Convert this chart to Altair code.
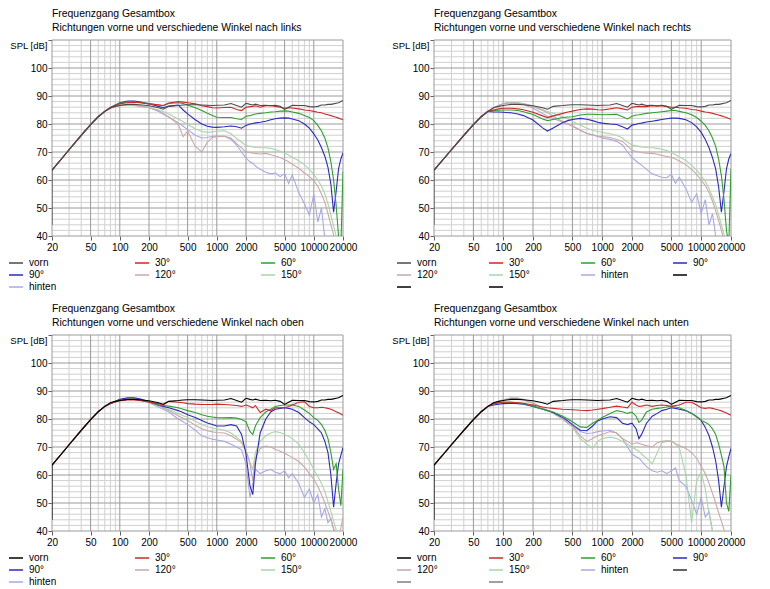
import altair as alt
import pandas as pd

FONT = "Liberation Sans"

FREQ = [20, 20, 25, 30, 40, 50, 60, 70, 80, 90, 100, 120, 140, 160, 200, 250, 280, 320, 400, 450,
        500, 600, 700, 800, 900, 1000, 1200, 1400, 1600, 1800, 2000, 2200,
        2350, 2500, 2800, 3200, 3600, 4000, 4500, 5000, 5500, 6000, 7000, 8000,
        9000, 10000, 11000, 12000, 13000, 14000, 15000, 16000, 17000, 18000, 19000, 20000]

# 20..70 Hz, identical for every curve
RISE = [63.5, 67.5, 70.8, 75.9, 79.8, 82.6, 84.5]

# first value = start at 20 Hz, then 80 Hz .. 20 kHz
VORN = [44.0,
        85.8, 86.3, 86.6, 87.0, 87.0, 86.9, 86.5, 85.8, 85.3, 86.3, 86.6, 86.8,
        86.9, 86.9, 86.8, 86.7, 86.6, 86.7, 86.8, 87.3, 86.6, 86.0, 87.4, 87.0,
        86.8, 87.1, 86.6, 86.7, 86.5, 86.7, 86.3, 85.2, 86.0, 86.7, 86.6, 86.6,
        86.2, 86.1, 86.3, 86.8, 86.8, 87.0, 87.0, 87.2, 87.4, 87.6, 88.0, 88.4]

# nach links
L30 = [63.5, 85.8, 86.6, 87.2, 87.7, 87.8, 87.6, 87.2, 86.9, 86.6, 87.5, 88.0, 87.8,
       87.6, 87.2, 86.5, 86.2, 85.8, 85.7, 85.9, 86.0, 85.2, 84.8, 86.0, 86.2,
       86.3, 86.5, 86.0, 86.5, 86.6, 86.3, 86.0, 85.6, 85.8, 85.7, 85.4, 85.0,
       84.8, 84.5, 84.2, 84.0, 83.6, 83.3, 83.0, 82.7, 82.4, 82.1, 81.8, 81.5]
L60 = [63.5, 85.9, 86.8, 87.4, 87.9, 87.9, 87.7, 87.3, 86.8, 86.5, 87.3, 87.6, 87.3,
       86.8, 85.8, 84.8, 83.8, 83.0, 82.4, 82.3, 82.3, 81.9, 81.6, 82.8, 83.0,
       83.3, 83.6, 83.8, 84.0, 84.3, 84.4, 84.6, 84.7, 84.6, 84.3, 83.8, 83.0,
       82.3, 81.2, 79.5, 77.5, 75.0, 71.5, 66.5, 60.0, 51.0, 40.0, 36.0, 63.0]
L90 = [63.5, 85.9, 86.8, 87.6, 88.2, 88.2, 87.9, 87.2, 86.3, 85.8, 86.4, 86.8, 85.0,
       83.6, 81.5, 80.0, 79.2, 78.9, 78.8, 79.0, 79.3, 79.0, 78.5, 79.5, 80.0,
       80.2, 80.4, 80.6, 81.0, 81.5, 81.9, 82.1, 82.2, 82.1, 81.8, 81.2, 80.0,
       78.5, 76.5, 74.3, 71.5, 68.5, 64.5, 58.5, 48.5, 56.0, 64.0, 67.5, 69.7]
L120 = [63.5, 85.6, 86.2, 86.6, 86.8, 86.6, 86.3, 85.8, 84.8, 83.8, 82.5, 80.0, 75.5,
        77.5, 72.0, 70.0, 73.5, 75.2, 75.5, 75.6, 75.0, 73.0, 71.5, 70.0, 69.8,
        69.6, 69.5, 69.3, 69.5, 69.0, 68.6, 68.0, 67.2, 66.5, 65.6, 64.2, 62.5,
        61.2, 59.8, 57.8, 55.0, 52.0, 48.0, 44.0, 40.5, 37.0, 36.0, 36.0, 36.0]
L150 = [63.5, 85.6, 86.3, 86.8, 87.0, 86.8, 86.5, 85.9, 85.0, 84.5, 83.6, 81.8, 80.8,
        79.8, 78.3, 77.3, 77.0, 77.2, 77.4, 77.6, 76.5, 74.8, 73.5, 72.3, 72.0,
        71.8, 71.6, 71.5, 71.5, 71.3, 70.9, 70.3, 69.6, 68.9, 68.1, 66.9, 65.5,
        63.8, 62.0, 60.0, 57.8, 55.0, 51.5, 47.5, 43.5, 40.0, 36.0, 36.0, 36.0]
LH = [63.5, 85.6, 86.2, 86.7, 87.0, 86.8, 86.5, 85.9, 84.5, 83.5, 82.5, 80.5, 79.2,
      78.0, 76.0, 75.0, 75.2, 75.6, 75.7, 75.6, 74.5, 72.5, 70.0, 67.8, 66.5,
      66.0, 65.0, 63.8, 62.8, 62.2, 62.5, 61.2, 62.3, 58.8, 61.8, 55.5, 51.5,
      47.5, 55.0, 45.0, 50.0, 39.0, 36.0, 36.0, 36.0, 36.0, 36.0, 36.0, 36.0]

# nach rechts
R30 = [63.5, 85.0, 85.4, 85.6, 85.6, 85.4, 85.1, 84.2, 82.9, 82.3, 82.9, 83.8, 84.3,
       84.6, 85.2, 85.4, 85.3, 85.1, 85.0, 85.4, 85.8, 85.4, 85.0, 86.0, 86.2,
       86.2, 86.3, 86.2, 86.5, 86.4, 86.5, 86.2, 86.0, 86.0, 85.8, 85.6, 85.2,
       85.0, 84.6, 84.3, 84.1, 83.8, 83.5, 83.2, 82.9, 82.6, 82.3, 82.0, 81.7]
R60 = [63.5, 84.8, 84.9, 85.0, 85.0, 84.8, 84.4, 83.4, 81.8, 81.2, 81.6, 82.3, 82.5,
       82.6, 83.2, 83.5, 83.5, 83.4, 83.3, 83.4, 83.5, 82.6, 81.8, 82.8, 83.2,
       83.3, 83.5, 83.8, 84.0, 84.2, 84.4, 84.6, 84.8, 84.8, 84.5, 84.0, 83.3,
       82.3, 81.0, 79.5, 77.5, 75.0, 72.0, 67.5, 61.5, 53.0, 42.0, 37.0, 64.0]
R90 = [63.5, 84.3, 84.3, 84.2, 84.0, 83.6, 83.0, 81.4, 78.6, 77.5, 78.6, 80.5, 81.2,
       81.6, 82.0, 81.7, 81.2, 80.6, 80.3, 80.0, 79.8, 79.0, 78.2, 79.6, 79.9,
       80.2, 80.3, 80.7, 81.0, 81.3, 81.6, 81.9, 82.1, 82.1, 82.0, 81.5, 80.5,
       79.0, 77.0, 74.5, 71.5, 68.0, 64.0, 57.5, 48.5, 56.0, 64.0, 67.5, 69.5]
R120 = [63.5, 85.8, 86.6, 87.2, 87.6, 87.5, 87.2, 86.2, 84.8, 84.0, 82.8, 80.8, 80.0,
        79.2, 77.8, 76.6, 76.0, 75.7, 75.5, 75.2, 74.5, 73.8, 72.2, 70.6, 70.2,
        70.0, 69.8, 69.6, 69.5, 69.2, 68.8, 68.4, 68.0, 67.5, 66.8, 65.5, 63.8,
        62.0, 60.0, 58.0, 55.5, 52.5, 49.0, 45.5, 42.0, 38.5, 36.0, 36.0, 36.0]
R150 = [63.5, 85.8, 86.6, 87.3, 87.7, 87.6, 87.3, 86.5, 85.2, 84.5, 83.8, 82.5, 81.8,
        81.0, 79.6, 78.5, 77.8, 77.3, 77.0, 76.5, 76.0, 75.0, 73.5, 72.5, 72.2,
        72.0, 71.8, 71.6, 71.5, 71.3, 71.0, 70.5, 69.8, 69.0, 68.3, 67.0, 65.2,
        63.5, 61.5, 59.5, 57.0, 54.0, 51.0, 47.5, 44.0, 40.5, 37.0, 36.0, 36.0]
RH = [63.5, 85.8, 86.6, 87.3, 87.7, 87.5, 87.0, 85.6, 83.8, 82.8, 82.0, 80.6, 80.0,
      79.4, 77.8, 76.6, 76.2, 75.5, 75.0, 74.5, 73.8, 72.5, 70.0, 68.0, 66.8,
      66.0, 65.3, 63.8, 62.2, 61.5, 61.0, 60.8, 62.0, 58.8, 61.0, 57.0, 52.0,
      55.0, 48.0, 53.0, 44.0, 48.0, 40.0, 37.0, 36.0, 36.0, 36.0, 36.0, 36.0]

# nach oben
O30 = [63.5, 85.5, 86.1, 86.5, 86.8, 86.8, 86.6, 86.1, 85.5, 85.0, 86.3, 86.0, 85.8,
       85.5, 85.3, 85.2, 85.2, 85.2, 85.3, 85.2, 85.0, 84.8, 84.5, 85.0, 84.5,
       84.0, 84.8, 82.3, 83.5, 83.0, 84.0, 84.0, 84.0, 84.5, 85.0, 86.0, 86.2,
       84.5, 84.0, 84.0, 84.2, 84.0, 83.8, 83.5, 83.0, 82.6, 82.2, 81.8, 81.3]
O60 = [63.5, 85.5, 86.2, 86.7, 87.0, 87.0, 86.8, 86.1, 85.0, 84.8, 84.6, 84.0, 83.5,
       83.0, 82.3, 81.5, 81.0, 80.7, 80.5, 80.4, 80.5, 80.3, 79.8, 79.0, 75.5,
       74.5, 77.5, 80.5, 82.5, 83.5, 84.5, 84.8, 85.0, 85.0, 85.0, 84.5, 83.2,
       82.0, 80.5, 79.5, 78.0, 76.0, 73.0, 68.0, 62.0, 64.0, 55.0, 49.0, 62.0]
O90 = [63.5, 85.5, 86.3, 87.0, 87.6, 87.6, 87.2, 86.2, 85.0, 84.5, 84.0, 83.0, 82.3,
       81.5, 80.5, 79.5, 78.6, 78.0, 77.5, 77.5, 78.0, 77.5, 74.5, 67.5, 56.0,
       53.0, 64.0, 75.0, 80.0, 82.5, 83.5, 83.8, 84.0, 83.8, 83.5, 82.3, 80.5,
       79.0, 78.0, 76.5, 75.0, 72.0, 68.0, 60.0, 48.5, 57.0, 64.0, 67.0, 69.8]
O120 = [63.5, 85.5, 86.3, 86.9, 87.4, 87.4, 87.0, 86.0, 84.8, 84.0, 83.0, 81.2, 80.3,
        79.5, 77.8, 76.5, 75.8, 75.4, 75.2, 75.0, 74.0, 72.8, 71.5, 68.5, 64.0,
        58.0, 66.0, 69.5, 70.3, 70.0, 69.2, 68.5, 67.8, 67.0, 66.2, 64.8, 62.8,
        60.5, 58.5, 56.0, 53.0, 50.0, 47.0, 44.0, 41.0, 39.0, 38.0, 41.0, 45.0]
O150 = [63.5, 85.5, 86.3, 86.9, 87.4, 87.3, 86.9, 86.0, 84.8, 84.0, 83.5, 82.0, 81.2,
        80.5, 79.2, 78.0, 77.2, 76.8, 76.5, 76.0, 75.0, 73.5, 72.0, 69.0, 64.5,
        62.0, 68.0, 72.0, 74.0, 75.0, 75.5, 75.2, 74.5, 73.8, 73.0, 71.0, 68.0,
        65.0, 62.0, 59.5, 57.0, 54.0, 50.5, 47.0, 43.5, 40.5, 37.0, 36.0, 36.0]
OH = [63.5, 85.5, 86.3, 86.9, 87.3, 87.2, 86.8, 85.8, 84.3, 83.5, 82.5, 80.0, 79.0,
      78.0, 76.0, 74.0, 73.3, 72.8, 72.5, 72.0, 71.0, 70.0, 69.0, 64.0, 52.0,
      57.0, 62.0, 60.5, 61.5, 62.0, 61.0, 60.5, 61.5, 59.0, 60.5, 57.0, 52.0,
      55.0, 50.0, 53.0, 45.0, 48.0, 43.0, 44.5, 40.5, 38.0, 36.0, 36.0, 36.0]

# nach unten
U30 = [63.5, 85.5, 85.8, 86.0, 86.0, 85.8, 85.6, 85.0, 84.3, 84.0, 83.8, 83.5, 83.4,
       83.3, 83.1, 83.0, 83.2, 83.5, 83.7, 84.2, 84.6, 84.3, 84.0, 86.0, 85.0,
       84.5, 84.6, 85.0, 84.5, 84.8, 85.0, 84.8, 84.5, 84.8, 85.0, 86.0, 86.0,
       85.0, 84.0, 83.8, 84.0, 83.8, 83.5, 83.2, 82.9, 82.5, 82.1, 81.7, 81.3]
U60 = [63.5, 85.5, 85.8, 86.0, 86.0, 85.8, 85.5, 84.6, 83.6, 83.0, 82.5, 81.0, 80.0,
       79.0, 77.2, 77.0, 78.5, 79.6, 80.5, 82.0, 83.0, 82.6, 82.0, 82.5, 81.0,
       78.8, 79.5, 82.5, 83.5, 83.8, 84.0, 84.3, 84.5, 84.3, 84.0, 83.0, 82.0,
       80.8, 79.5, 78.8, 78.0, 76.5, 74.5, 71.0, 67.0, 63.0, 50.0, 47.0, 60.0]
U90 = [63.5, 85.0, 85.3, 85.5, 85.6, 85.5, 85.3, 84.5, 83.5, 83.0, 82.3, 80.5, 79.3,
       78.0, 76.0, 75.8, 77.5, 79.3, 80.0, 80.8, 80.5, 78.5, 78.0, 78.5, 76.5,
       73.0, 74.5, 78.5, 81.0, 82.0, 83.0, 83.5, 84.0, 83.8, 83.5, 83.0, 82.0,
       80.8, 79.5, 77.0, 74.0, 70.0, 65.0, 58.0, 48.5, 56.0, 63.0, 66.5, 69.5]
U120 = [63.5, 85.6, 86.3, 86.8, 87.3, 87.2, 86.8, 85.6, 84.0, 83.0, 82.2, 80.0, 78.5,
        77.5, 74.0, 72.0, 73.0, 74.0, 74.5, 75.5, 75.0, 73.0, 72.0, 71.0, 71.5,
        71.3, 71.0, 70.5, 70.0, 71.5, 72.0, 72.2, 72.0, 71.2, 70.5, 69.5, 68.0,
        66.0, 63.0, 60.5, 57.0, 53.5, 50.0, 46.5, 43.5, 40.5, 38.0, 36.0, 36.0]
U150 = [63.5, 85.6, 86.3, 86.9, 87.5, 87.4, 87.0, 85.8, 84.0, 83.0, 82.2, 80.0, 78.5,
        77.0, 73.0, 71.0, 69.5, 72.0, 73.0, 73.5, 73.0, 72.0, 71.0, 70.0, 69.0,
        68.5, 67.5, 66.0, 64.0, 68.0, 71.5, 72.0, 72.3, 71.0, 70.0, 60.0, 43.0,
        58.0, 61.0, 55.0, 46.0, 40.0, 36.0, 36.0, 36.0, 36.0, 36.0, 36.0, 36.0]
UH = [63.5, 85.6, 86.3, 86.9, 87.5, 87.5, 87.0, 85.6, 83.8, 83.0, 82.0, 80.0, 78.5,
      77.5, 75.5, 74.8, 75.0, 75.5, 75.7, 76.0, 75.0, 73.0, 70.0, 67.5, 66.5,
      66.0, 65.0, 63.0, 61.5, 61.0, 61.5, 60.5, 61.5, 62.5, 58.0, 56.0, 51.0,
      46.0, 52.0, 45.0, 47.0, 40.0, 36.0, 36.0, 36.0, 36.0, 36.0, 36.0, 36.0]

NAMES = ["vorn", "30°", "60°", "90°", "120°", "150°", "hinten"]
EXTRA = ["x1", "x2", "x3"]
COLORS = ["#000000", "#cc2a2a", "#2ea02e", "#2a2abf", "#caa8a8", "#a8d6a8", "#a8a8e4"]

XMAJ = [20, 50, 100, 200, 500, 1000, 2000, 5000, 10000, 20000]
XMIN = [30, 40, 60, 70, 80, 90, 300, 400, 600, 700, 800, 900,
        3000, 4000, 6000, 7000, 8000, 9000]
YMAJ = [40, 50, 60, 70, 80, 90, 100, 110]
YMIN = [42, 44, 46, 48, 52, 54, 56, 58, 62, 64, 66, 68, 72, 74, 76, 78,
        82, 84, 86, 88, 92, 94, 96, 98, 102, 104, 106, 108]

TITLE = "Frequenzgang Gesamtbox"
SUB = "Richtungen vorne und verschiedene Winkel nach "

XS = alt.Scale(type="log", domain=[20, 20000], nice=False)
YS = alt.Scale(domain=[40, 110], nice=False, zero=False)
AX = alt.Axis(values=XMAJ, format="d", labelOverlap=False, labelFlush=False, title=None,
              grid=False, domain=False, tickSize=4, labelPadding=2)
AY = alt.Axis(values=YMAJ, grid=False, domain=False, tickSize=4, labelPadding=1, title=None,
              labelExpr="datum.value == 110 ? 'SPL [dB]' : datum.label",
              labelFontSize={"condition": {"test": "datum.value == 110", "value": 9.5}, "value": 10},
              labelOffset={"condition": {"test": "datum.value == 110", "value": 5}, "value": 0})


def curve(vals):
    return [vals[0]] + RISE + vals[1:]


def vrules(vals, color):
    return alt.Chart(pd.DataFrame({"f": vals})).mark_rule(color=color, strokeWidth=1).encode(
        x=alt.X("f:Q", scale=XS, axis=AX))


def hrules(vals, color):
    return alt.Chart(pd.DataFrame({"db": vals})).mark_rule(color=color, strokeWidth=1).encode(
        y=alt.Y("db:Q", scale=YS, axis=AY))


def panel(direction, curves, vorn_color, extra_colors, width, legend_x, columns, col_pad):
    rows = []
    # draw order: hinten first, vorn last (on top)
    for name, vals in reversed(list(zip(NAMES, curves))):
        for i, (f, v) in enumerate(zip(FREQ, curve(vals))):
            rows.append({"f": f, "db": v, "s": name, "i": i})
    df = pd.DataFrame(rows)

    domain = NAMES + (EXTRA if extra_colors else [])
    rng = [vorn_color] + COLORS[1:] + extra_colors

    lines = alt.Chart(df).mark_line(strokeWidth=1.1, clip=True).encode(
        x=alt.X("f:Q", scale=XS, axis=AX),
        y=alt.Y("db:Q", scale=YS, axis=AY),
        color=alt.Color("s:N", scale=alt.Scale(domain=domain, range=rng),
                        legend=alt.Legend(title=None, orient="none", legendX=legend_x, legendY=217,
                                          direction="horizontal", clipHeight=12,
                                          columns=columns, columnPadding=col_pad, rowPadding=0,
                                          gridAlign="all", symbolType="stroke", symbolSize=196,
                                          symbolStrokeWidth=1.5, labelOffset=5, padding=0,
                                          labelFontSize=10,
                                          labelExpr="indexof(['x1','x2','x3'], datum.label) >= 0 ? '' : datum.label")),
        detail="s:N",
        order="i:Q",
    )

    layers = [vrules(XMIN, "#d0d0d0"), hrules(YMIN, "#d0d0d0"),
              vrules(XMAJ, "#9a9a9a"), hrules(YMAJ, "#9a9a9a"), lines]
    return alt.layer(*layers).properties(
        width=width, height=196,
        title=alt.TitleParams(TITLE, subtitle=SUB + direction, anchor="start", frame="group",
                              fontSize=10.4, subtitleFontSize=10.4, fontWeight="normal",
                              font=FONT, subtitleFont=FONT, color="#000", subtitleColor="#000",
                              offset=6, subtitlePadding=4))


p1 = panel("links", [VORN, L30, L60, L90, L120, L150, LH], "#4a4a4a", [], 291, -44, 3, 77)
p2 = panel("rechts", [VORN, R30, R60, R90, R120, R150, RH], "#4a4a4a",
           ["#000000", "#000000", "#000000"], 297, -38, 4, 43)
p3 = panel("oben", [VORN, O30, O60, O90, O120, O150, OH], "#000000", [], 291, -44, 3, 77)
p4 = panel("unten", [VORN, U30, U60, U90, U120, U150, UH], "#000000",
           ["#333333", "#808080", "#808080"], 297, -38, 4, 43)

chart = alt.concat(p1, p2, p3, p4, columns=2, spacing={"row": 99, "column": 91},
                   bounds="flush", align="each").resolve_scale(color="independent").configure(
    font=FONT, padding={"left": 0, "top": 0, "right": 4, "bottom": 0}
).configure_view(stroke=None).configure_axis(
    labelFont=FONT, labelFontSize=10, labelColor="#000", tickColor="#606060"
).configure_legend(labelFont=FONT, labelFontSize=10, labelColor="#000")

chart.save("out.html", embed_options={"renderer": "svg", "actions": False})
